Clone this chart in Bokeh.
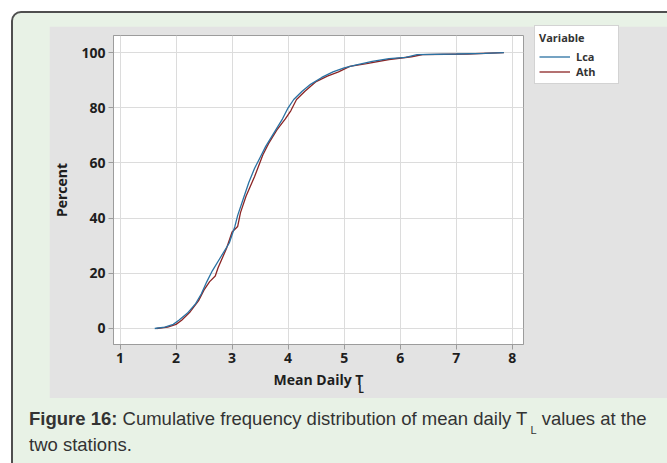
from bokeh.plotting import figure
from bokeh.models import Range1d, FixedTicker, Legend, LegendItem, LinearAxis, Div, Column
from bokeh.embed import file_html
from bokeh.resources import INLINE

# ---- data (cumulative percent vs mean daily T_L) ----
lca_x = [1.62, 1.80, 1.95, 2.05, 2.20, 2.35, 2.45, 2.55, 2.65, 2.80, 2.95, 3.05, 3.10,
         3.20, 3.30, 3.40, 3.50, 3.60, 3.75, 3.90, 4.00, 4.10, 4.25, 4.40, 4.60, 4.80,
         5.00, 5.20, 5.50, 5.80, 6.10, 6.30, 7.00, 7.50, 7.85]
lca_y = [0.0, 0.5, 1.5, 3.0, 5.5, 9.0, 12.5, 17.0, 21.0, 26.0, 31.0, 37.0, 41.0,
         47.0, 53.0, 58.0, 62.0, 66.0, 71.0, 76.0, 80.0, 83.0, 86.0, 88.5, 91.0, 93.0,
         94.5, 95.5, 96.8, 97.8, 98.3, 99.3, 99.5, 99.7, 100.0]
ath_x = [1.65, 1.85, 2.00, 2.10, 2.25, 2.40, 2.50, 2.60, 2.70, 2.75, 2.90, 3.00, 3.10,
         3.15, 3.25, 3.40, 3.55, 3.65, 3.80, 3.95, 4.05, 4.15, 4.30, 4.50, 4.70, 4.90,
         5.10, 5.40, 5.80, 6.20, 6.40, 7.20, 7.85]
ath_y = [0.0, 0.5, 1.5, 3.0, 6.0, 10.0, 14.0, 17.0, 19.0, 22.0, 29.0, 35.0, 37.0,
         42.0, 48.0, 55.0, 63.0, 67.0, 72.0, 76.0, 79.0, 83.0, 86.0, 89.5, 91.5, 93.0,
         95.0, 96.0, 97.5, 98.5, 99.3, 99.5, 100.0]
series_names = ["Lca", "Ath"]
x_ticks = [1, 2, 3, 4, 5, 6, 7, 8]
y_ticks = [0, 20, 40, 60, 80, 100]
x_title = "Mean Daily T"
x_title_sub = "L"
y_title = "Percent"
legend_title = "Variable"
caption_html = ("<b>Figure 16:</b> Cumulative frequency distribution of mean daily T"
                "<span style=\"font-size:11px;position:relative;top:9px;margin-left:3px\">L</span>"
                " values at the two stations.")

FONT = "Open Sans"
TXT = "#1e1e1e"
AX = "#9c9c9c"

# gray chart panel = figure canvas (64 + 410 + 106 = 580 wide, 9 + 309 + 54 = 372 high)
p = figure(frame_width=410, frame_height=309,
           min_border_left=64, min_border_right=106,
           min_border_top=9, min_border_bottom=54,
           x_range=Range1d(0.884, 8.2), y_range=Range1d(-5.8, 106.2),
           output_backend="svg", toolbar_location=None,
           border_fill_color="#e3e3e3", background_fill_color="white",
           margin=(13, 60, 0, 36))

p.outline_line_color = AX
p.outline_line_width = 1

for ax in (p.xaxis[0], p.yaxis[0]):
    ax.axis_line_color = AX
    ax.major_tick_line_color = AX
    ax.major_tick_out = 5
    ax.major_tick_in = 0
    ax.minor_tick_line_color = None
    ax.major_label_text_font = FONT
    ax.major_label_text_font_size = "14px"
    ax.major_label_text_font_style = "bold"
    ax.major_label_text_color = TXT
    ax.axis_label_text_font = FONT
    ax.axis_label_text_font_size = "14px"
    ax.axis_label_text_font_style = "bold"
    ax.axis_label_text_color = TXT
    ax.major_label_standoff = 3

p.xaxis.ticker = FixedTicker(ticks=x_ticks)
p.yaxis.ticker = FixedTicker(ticks=y_ticks)
p.xaxis.axis_label = x_title
p.yaxis.axis_label = y_title
p.xaxis.axis_label_standoff = 4
p.yaxis.axis_label_standoff = 7

# subscript "L" of the x-axis title, as a label-only axis stacked under the main one
sub_pos = 5.30
sub_axis = LinearAxis(ticker=FixedTicker(ticks=[sub_pos]),
                      major_label_overrides={sub_pos: x_title_sub},
                      axis_line_color=None, major_tick_line_color=None,
                      minor_tick_line_color=None, major_tick_out=0, major_tick_in=0,
                      major_label_standoff=-10,
                      major_label_text_font=FONT, major_label_text_font_size="10px",
                      major_label_text_font_style="bold", major_label_text_color=TXT)
p.add_layout(sub_axis, "below")

p.xgrid.ticker = FixedTicker(ticks=x_ticks)
p.ygrid.ticker = FixedTicker(ticks=y_ticks)
p.grid.grid_line_color = "#dcdcdc"
p.grid.grid_line_width = 1

r_ath = p.line(ath_x, ath_y, line_color="#8b2525", line_width=1.3)
r_lca = p.line(lca_x, lca_y, line_color="#2a72a3", line_width=1.3)

legend = Legend(items=[LegendItem(label=series_names[0], renderers=[r_lca]),
                       LegendItem(label=series_names[1], renderers=[r_ath])],
                location=(11, 260), margin=0, padding=4, spacing=0,
                title=legend_title, title_standoff=4,
                title_text_font=FONT, title_text_font_size="11px",
                title_text_font_style="bold", title_text_color="#333333",
                title_text_line_height=1.0,
                label_text_font=FONT, label_text_font_size="11px",
                label_text_font_style="bold", label_text_color="#333333",
                label_text_line_height=1.0,
                glyph_width=31, glyph_height=13, label_height=13,
                label_standoff=6, label_width=38,
                border_line_color="#a8a8a8", border_line_width=1,
                background_fill_color="white", background_fill_alpha=1.0)
p.add_layout(legend, "right")

# caption: 16 + 636 + 24 = 676 = 36 + 580 + 60 (same outer width as the figure)
cap = Div(text=caption_html, width=636, margin=(9, 24, 60, 16),
          styles={"font-family": "'Liberation Sans', Arial, sans-serif",
                  "font-size": "18.5px", "line-height": "23px", "color": "#333333"})

page = Column(children=[p, cap], margin=(11, 0, 0, 11), spacing=0,
              styles={"background-color": "#e8f2e6", "border": "2px solid #4f4f4f",
                      "border-radius": "10px"})

open("out.html", "w").write(file_html(page, INLINE))
